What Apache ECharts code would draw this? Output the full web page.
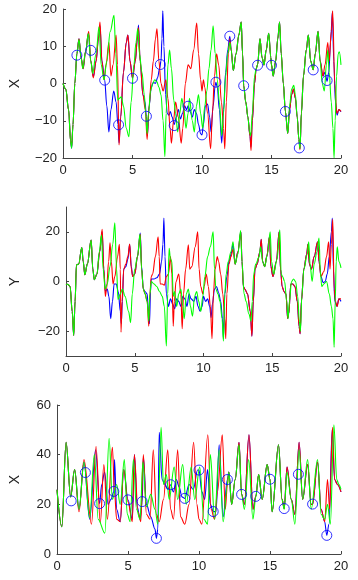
<!DOCTYPE html>
<html>
<head>
<meta charset="utf-8">
<title>lorenz</title>
<script src="https://cdn.jsdelivr.net/npm/echarts@6/dist/echarts.min.js"></script>
<style>
  html, body { margin:0; padding:0; background:#fff; }
  #main { width:358px; height:580px; }
</style>
</head>
<body>
<div id="main"></div>
<script type="text/javascript">
// --- data: [t, value] ---
var xTicks = [0, 5, 10, 15, 20];
var obsT = [1,2,3,4,5,6,7,8,9,10,11,12,13,14,15,16,17,18,19];
var obsX = [7.6,8.9,0.9,-11.1,1.4,-8.8,5.1,-11.3,-6.1,-13.8,0.35,12.7,-0.6,4.9,4.9,-7.5,-17.3,3.65,0.8];
var obsZ = [21.4,32.8,20.3,25.2,21.8,21.1,6.3,27.9,22.4,33.8,17.1,30,24,23.2,30.1,18.3,32.1,20.1,7.5];

var xBlue = [[0,0],[0.2,-1.5],[0.4,-7],[0.55,-15.5],[0.62,-17.4],[0.72,-11],[0.85,0],[1.0,8],[1.15,12],[1.3,7],[1.45,4],[1.62,8.5],[1.83,13.5],[2.0,6],[2.18,1.8],[2.38,6],[2.55,12],[2.66,15.5],[2.8,6],[3.0,0.9],[3.15,-6],[3.3,-13],[3.45,-7],[3.65,-2],[3.82,-5],[3.95,-11],[4.03,-16],[4.15,-9],[4.35,3],[4.55,11],[4.67,13],[4.82,6],[5.0,1.4],[5.2,6],[5.35,12],[5.43,15.7],[5.55,6],[5.75,-3],[5.9,-5],[6.0,-8.8],[6.07,-14],[6.2,-6],[6.35,-1],[6.5,0.3],[6.65,0],[6.8,1.5],[6.95,4],[7.05,6],[7.12,12],[7.18,19.5],[7.26,10],[7.38,-3],[7.5,-8],[7.62,-8.5],[7.72,-7.5],[7.85,-9],[8.0,-11],[8.15,-9],[8.3,-7],[8.45,-9.5],[8.6,-8],[8.75,-6],[8.9,-7],[9.0,-6],[9.15,-7.5],[9.3,-9],[9.45,-7],[9.6,-8],[9.75,-11],[9.9,-13.5],[10.0,-13.8],[10.1,-11],[10.25,-6],[10.4,-5.5],[10.55,-9],[10.65,-13],[10.8,-6],[10.95,-0.5],[11.0,0.3],[11.1,-1],[11.25,-7],[11.42,-16],[11.55,-7],[11.7,3],[11.85,9],[12.0,12.7],[12.1,9],[12.25,3.5],[12.45,8],[12.65,13],[12.82,16.5],[12.92,8],[13.0,-0.6],[13.15,-5],[13.3,-9],[13.45,-14],[13.52,-17],[13.62,-10],[13.78,0],[13.9,4],[14.0,5],[14.17,12],[14.32,7],[14.46,5],[14.62,9],[14.8,13.5],[14.95,7],[15.0,5],[15.12,2],[15.3,6],[15.45,12],[15.58,16.5],[15.7,8],[15.85,0],[16.0,-7.5],[16.17,-13.4],[16.3,-7],[16.45,-3],[16.58,-1.5],[16.72,-4],[16.85,-9],[16.97,-15],[17.05,-17.5],[17.15,-8],[17.3,2],[17.5,9],[17.65,13],[17.82,6],[18.0,3.7],[18.15,8],[18.35,14],[18.5,6],[18.7,2],[18.85,3],[19.0,0.6],[19.12,3],[19.25,11],[19.38,19.2],[19.48,6],[19.6,-5],[19.72,-8.5],[19.85,-7],[20,-7.6]];
var xRed = [[0,0],[0.2,-1.5],[0.4,-7],[0.55,-15.5],[0.62,-17],[0.72,-11],[0.85,0],[1.0,8],[1.15,12],[1.3,7],[1.45,4],[1.62,8.5],[1.85,14],[2.0,6],[2.18,1.5],[2.38,6],[2.55,12],[2.66,16.5],[2.8,6],[2.95,1],[3.1,5],[3.3,11],[3.45,2],[3.6,5],[3.82,13],[3.92,5],[4.03,-16.5],[4.15,-9],[4.35,3],[4.55,11],[4.67,13],[4.82,6],[5.0,1.5],[5.2,6],[5.35,12],[5.43,15],[5.55,6],[5.75,-3],[5.92,-7],[6.05,-15],[6.2,-6],[6.35,1],[6.5,6],[6.65,12],[6.76,14.7],[6.9,6],[7.05,0],[7.2,-2],[7.4,1],[7.55,-4],[7.7,-12],[7.8,-16],[7.95,-10],[8.1,-5],[8.3,-9],[8.5,-16],[8.62,-12],[8.8,0],[9.0,5],[9.2,4],[9.4,9],[9.62,16.2],[9.75,8],[9.9,1],[10.0,-2],[10.1,1],[10.2,-1],[10.4,-8],[10.62,-17.5],[10.75,-8],[10.9,2],[11.05,8],[11.2,5],[11.4,-5],[11.55,-12],[11.64,-17.5],[11.75,-5],[11.9,8],[12.0,12],[12.1,9],[12.25,3.5],[12.45,8],[12.65,13],[12.82,16.5],[12.92,8],[13.0,-0.6],[13.15,-5],[13.3,-9],[13.45,-14],[13.53,-18],[13.62,-10],[13.78,0],[13.9,4],[14.0,5],[14.17,12],[14.32,7],[14.46,5],[14.62,9],[14.8,13.5],[14.95,7],[15.0,5],[15.12,2],[15.3,6],[15.45,12],[15.58,16.5],[15.7,8],[15.85,0],[16.0,-7.5],[16.17,-13.4],[16.3,-7],[16.45,-3],[16.58,-1.5],[16.72,-4],[16.85,-9],[16.97,-15],[17.05,-17.8],[17.15,-8],[17.3,2],[17.5,9],[17.65,13],[17.82,6],[18.0,3.7],[18.15,8],[18.35,14],[18.5,6],[18.7,2],[18.85,5],[19.05,11],[19.15,6],[19.3,14],[19.4,19.5],[19.55,0],[19.7,-8],[19.85,-7],[20,-7.5]];
var xGreen = [[0,0],[0.2,-1.5],[0.4,-7],[0.55,-15.5],[0.62,-17.4],[0.72,-11],[0.85,0],[1.0,8],[1.15,11.8],[1.3,7],[1.42,4],[1.62,8.5],[1.83,13.4],[2.0,6],[2.13,2.7],[2.38,8],[2.59,15.2],[2.75,5],[2.95,1],[3.15,6],[3.4,14],[3.67,18.3],[3.8,8],[3.94,-4.5],[4.05,-4],[4.19,-3.6],[4.35,-6],[4.55,-12],[4.74,-14.3],[4.9,-5],[5.1,5],[5.25,11],[5.38,14.7],[5.5,8],[5.68,3],[5.85,-3],[5.95,-8],[6.05,-13.5],[6.15,-8],[6.3,-2],[6.45,0],[6.6,1],[6.75,0.5],[6.9,-1],[7.05,-3],[7.2,-10],[7.33,-19.6],[7.42,-8],[7.55,5],[7.67,9],[7.8,4],[7.97,-4.5],[8.1,-8],[8.25,-13],[8.4,-8],[8.55,-4],[8.7,-7],[8.85,-12],[9.0,-8],[9.1,-4],[9.3,-10],[9.45,-13],[9.6,-6],[9.75,-3],[9.9,-8],[10.05,-12],[10.2,-6],[10.35,-2],[10.5,4],[10.65,9],[10.8,15.5],[10.95,8],[11.1,1],[11.25,-5],[11.42,-14],[11.55,-8],[11.7,2],[11.85,8],[12.0,11],[12.1,9],[12.25,3.5],[12.45,8],[12.65,13],[12.82,16.5],[12.92,8],[13.0,-0.6],[13.15,-5],[13.3,-9],[13.42,-13],[13.5,-14],[13.62,-8],[13.78,2],[13.9,4],[14.0,5],[14.17,12],[14.32,7],[14.46,5],[14.62,9],[14.8,13.5],[14.95,7],[15.0,5],[15.12,2],[15.3,6],[15.45,12],[15.58,16.5],[15.7,8],[15.85,0],[16.0,-7.5],[16.17,-13.4],[16.3,-6],[16.45,-1.5],[16.6,-0.5],[16.72,-3],[16.85,-9],[16.97,-15],[17.05,-17.5],[17.15,-8],[17.3,2],[17.5,9],[17.65,13],[17.82,6],[18.0,3.7],[18.15,8],[18.35,14],[18.5,6],[18.65,0],[18.8,-2],[18.95,5],[19.05,9],[19.15,3],[19.3,-5],[19.42,-12],[19.5,-20],[19.58,-10],[19.68,2],[19.8,8],[19.88,8.5],[20,5]];

var yBlue = [[0,-1],[0.15,-1.2],[0.3,-2],[0.45,-12],[0.56,-21.7],[0.66,-8],[0.76,6.7],[0.92,7],[1.15,13.7],[1.25,8],[1.37,2.7],[1.55,7],[1.83,16.7],[1.95,5],[2.06,0.7],[2.25,3],[2.45,12],[2.63,20],[2.75,5],[2.86,-4],[3.0,-3],[3.12,-6],[3.25,-15],[3.38,-8],[3.5,-1],[3.65,-1],[3.8,-4],[3.95,-12],[4.02,-17],[4.1,-8],[4.2,5],[4.35,6],[4.5,9],[4.63,15],[4.75,6],[4.85,2],[5.0,3],[5.2,10],[5.4,19.5],[5.5,6],[5.62,-3],[5.75,-4],[5.9,-5],[6.0,-12],[6.07,-17],[6.15,-4],[6.2,1],[6.4,1],[6.6,1.5],[6.8,3],[6.95,8],[7.05,15],[7.12,25.5],[7.2,10],[7.3,-5],[7.45,-10],[7.6,-7],[7.75,-9],[7.9,-11],[8.05,-7],[8.2,-8],[8.35,-10],[8.5,-6],[8.65,-7],[8.8,-10],[8.95,-5],[9.1,-7],[9.3,-8],[9.45,-6],[9.6,-10],[9.75,-12],[9.9,-10],[10.0,-6],[10.15,-8],[10.3,-7],[10.45,-10],[10.55,-14.5],[10.65,-9],[10.8,-3],[10.95,-2],[11.1,-4.5],[11.25,-8],[11.38,-15],[11.45,-23],[11.55,-5],[11.7,2],[11.85,8],[12.0,11],[12.15,15],[12.3,7],[12.5,12],[12.72,20],[12.8,8],[12.9,-2],[13.0,-3],[13.2,-5],[13.4,-12],[13.52,-22],[13.62,-8],[13.75,5],[13.9,7],[14.1,12],[14.2,17],[14.3,8],[14.45,6],[14.6,10],[14.8,18],[14.9,6],[15.05,2],[15.3,8],[15.5,20],[15.6,5],[15.72,-2],[15.85,-4],[16.0,-5],[16.12,-15],[16.2,-13],[16.35,-1],[16.5,-1],[16.65,-2],[16.82,-8],[16.95,-18],[17.03,-21],[17.12,-8],[17.3,5],[17.5,11],[17.6,15],[17.7,7],[17.85,5],[18.05,10],[18.3,16],[18.4,8],[18.55,2],[18.7,-0.5],[18.85,0],[19.0,3],[19.15,10],[19.3,20],[19.37,25.5],[19.45,5],[19.55,-8],[19.7,-10],[19.85,-7],[20,-8]];
var yRed = [[0,-1],[0.15,-1.2],[0.3,-2],[0.45,-12],[0.56,-21.7],[0.66,-8],[0.76,6.7],[0.92,7],[1.15,13.7],[1.25,8],[1.37,2.7],[1.55,7],[1.83,16.7],[1.95,5],[2.06,0.7],[2.25,3],[2.45,12],[2.63,21],[2.75,5],[2.86,-6],[2.95,-3],[3.1,8],[3.2,15.6],[3.3,8],[3.42,-1],[3.55,2],[3.75,10],[3.88,15],[3.95,5],[4.0,-20.4],[4.08,-8],[4.2,5],[4.35,7],[4.5,10],[4.63,15.1],[4.75,5],[4.85,2],[5.0,3],[5.2,10],[5.4,19],[5.5,5],[5.62,-3],[5.75,-5],[5.9,-8],[6.02,-18],[6.1,-5],[6.2,2],[6.3,3],[6.5,10],[6.7,18],[6.78,10],[6.85,-1],[7.0,-1],[7.15,-1.5],[7.3,2],[7.45,3],[7.6,10],[7.7,3],[7.8,-18],[7.88,-8],[8.0,0],[8.2,3],[8.35,-5],[8.45,-19],[8.55,-5],[8.7,5],[8.9,14.8],[9.0,5],[9.15,6],[9.4,14],[9.58,20],[9.68,5],[9.8,-2],[9.95,-5],[10.05,-2],[10.2,3],[10.35,-2],[10.5,-10],[10.62,-23],[10.72,-5],[10.85,5],[11.0,10],[11.1,8],[11.25,3],[11.4,-5],[11.55,-15],[11.62,-23],[11.7,-5],[11.85,7],[12.0,10],[12.15,13],[12.3,7],[12.5,12],[12.72,20],[12.8,8],[12.9,-2],[13.0,-3],[13.2,-5],[13.4,-12],[13.52,-22],[13.62,-8],[13.75,5],[13.9,7],[14.1,12],[14.2,17],[14.3,8],[14.45,6],[14.6,10],[14.8,18],[14.9,6],[15.05,2],[15.3,8],[15.5,20],[15.6,5],[15.72,-2],[15.85,-4],[16.0,-5],[16.12,-15],[16.2,-13],[16.35,-1],[16.5,-1],[16.65,-2],[16.82,-8],[16.95,-18],[17.03,-21],[17.12,-8],[17.3,5],[17.5,11],[17.6,15],[17.7,7],[17.85,5],[18.05,10],[18.3,16],[18.4,8],[18.55,2],[18.75,4],[18.95,10],[19.1,16],[19.2,5],[19.3,15],[19.4,25],[19.5,-3],[19.6,-8],[19.72,-10],[19.85,-7],[20,-7]];
var yGreen = [[0,-1],[0.15,-1.2],[0.3,-2],[0.45,-12],[0.56,-21.7],[0.66,-8],[0.76,6.7],[0.92,7],[1.15,13.7],[1.25,8],[1.37,2.7],[1.55,7],[1.83,16.7],[1.95,5],[2.06,0.7],[2.25,3],[2.42,12],[2.58,18.7],[2.7,5],[2.85,-3],[3.0,-1],[3.2,6],[3.4,15],[3.55,23.6],[3.68,5],[3.78,-7.3],[3.95,-5],[4.1,-3],[4.3,-6],[4.55,-12],[4.7,-16.6],[4.82,-5],[5.0,5],[5.2,10],[5.38,19],[5.5,5],[5.62,-3],[5.75,-5],[5.9,-8],[6.02,-16],[6.1,-5],[6.2,0],[6.4,-1],[6.6,-2],[6.8,-4],[7.0,-6],[7.15,-10],[7.3,-26],[7.4,-5],[7.5,13.4],[7.6,9],[7.7,8],[7.8,-6],[7.9,-4],[8.05,-10],[8.2,-5],[8.35,-3],[8.5,-10],[8.6,-15],[8.75,-5],[8.9,-3],[9.05,-10],[9.2,-14],[9.35,-6],[9.5,-4],[9.65,-8],[9.8,-12],[9.95,-6],[10.1,2],[10.3,10],[10.5,14],[10.7,20],[10.8,5],[10.9,-3],[11.05,-5],[11.2,-8],[11.35,-15],[11.45,-24],[11.55,-5],[11.65,3],[11.8,8],[12.0,12],[12.15,16],[12.3,7],[12.5,11],[12.7,20.5],[12.8,8],[12.95,-5],[13.1,-8],[13.3,-13],[13.45,-16],[13.55,-8],[13.65,3],[13.8,7],[14.05,10],[14.15,14],[14.3,8],[14.45,6],[14.65,11],[14.85,20],[14.95,8],[15.1,3],[15.35,9],[15.55,20.8],[15.65,3],[15.75,2],[15.9,0],[16.05,-8],[16.15,-15],[16.25,-8],[16.4,0],[16.55,1],[16.7,0],[16.85,-6],[16.97,-16],[17.05,-20],[17.15,-6],[17.3,5],[17.55,11],[17.65,16],[17.75,7],[17.9,0],[18.05,7],[18.25,12],[18.4,17.5],[18.5,4],[18.6,-2],[18.75,-1],[18.95,0],[19.15,-5],[19.3,-10],[19.42,-15],[19.5,-26.5],[19.58,-8],[19.65,8],[19.73,14],[19.85,8],[20,5.5]];

var zBlue = [[0,25.9],[0.34,11],[0.64,45],[0.96,23],[1.24,34],[1.55,18],[1.9,37],[2.3,14],[2.72,42],[3.0,20.3],[3.15,28],[3.35,33],[3.6,20],[3.8,22],[4.0,25],[4.05,38],[4.2,18],[4.45,13],[4.7,34],[5.0,21.8],[5.3,14],[5.45,40],[5.65,19],[5.85,14],[6.0,21],[6.08,39],[6.3,20],[6.6,15],[6.9,10],[7.0,6.3],[7.1,10],[7.2,49],[7.4,30],[7.6,28],[7.8,26],[8.0,27.9],[8.2,25],[8.4,30],[8.6,27],[8.8,23],[9.0,22.4],[9.3,28],[9.6,26],[9.9,33.8],[10.0,33.8],[10.2,25],[10.4,22],[10.6,34],[10.8,20],[11.0,17.1],[11.2,17],[11.42,44],[11.7,15],[12.0,30],[12.1,33],[12.3,20],[12.55,30],[12.82,45],[13.0,24],[13.2,20],[13.52,48],[13.8,18],[14.0,23.2],[14.2,32],[14.45,22],[14.8,36],[15.0,30.1],[15.15,17],[15.6,44],[15.85,22],[16.0,18.3],[16.2,35],[16.5,22],[16.75,16],[17.05,45],[17.3,22],[17.65,36],[17.9,20],[18.0,20.1],[18.35,37],[18.6,18],[18.85,13],[19.0,7.5],[19.15,12],[19.38,50],[19.55,30],[19.75,28],[20,25]];
var zRed = [[0,25.9],[0.34,11],[0.64,45],[0.96,23],[1.24,34],[1.55,17],[1.9,38],[2.43,12],[2.75,43.3],[3.05,12.5],[3.3,36],[3.55,14],[3.9,43],[4.05,25],[4.2,14],[4.45,13],[4.7,34],[5.0,21],[5.3,13],[5.45,40],[5.7,17],[5.9,13],[6.08,40],[6.3,16],[6.55,14],[6.78,42],[7.0,16],[7.2,13],[7.5,22],[7.8,42],[8.0,18],[8.2,14],[8.5,42],[8.7,15],[9.0,12],[9.3,20],[9.62,45],[9.85,20],[10.0,14],[10.2,12],[10.62,48],[10.85,18],[11.1,14],[11.3,25],[11.64,48],[11.85,18],[12.0,28],[12.1,33],[12.3,20],[12.55,30],[12.82,45],[13.0,24],[13.2,20],[13.52,48],[13.8,18],[14.0,23.2],[14.2,32],[14.45,22],[14.8,36],[15.0,30.1],[15.15,17],[15.6,44],[15.85,22],[16.0,18.3],[16.2,35],[16.5,22],[16.75,16],[17.05,45],[17.3,22],[17.65,36],[17.9,20],[18.0,20.1],[18.35,37],[18.6,18],[18.85,13],[19.05,30],[19.2,18],[19.4,51],[19.55,30],[19.75,28],[20,25]];
var zGreen = [[0,25.9],[0.34,11],[0.64,45],[0.96,23],[1.24,34],[1.55,18],[1.9,37],[2.3,14.5],[2.63,40],[2.9,14],[3.37,8.4],[3.67,46.6],[3.9,22],[4.2,28],[4.45,20],[4.74,38],[4.95,16],[5.15,13],[5.38,38],[5.6,18],[5.85,14],[6.05,37],[6.3,19],[6.6,24],[6.9,18],[7.1,12],[7.33,51],[7.5,28],[7.7,32],[7.9,22],[8.25,35],[8.5,22],[8.85,36],[9.1,20],[9.45,35],[9.7,22],[10.05,35],[10.35,14],[10.6,12],[10.8,40],[11.1,14],[11.42,42],[11.7,13],[12.0,28],[12.1,33],[12.3,20],[12.55,30],[12.82,44],[13.0,24],[13.2,18],[13.5,38],[13.8,14],[14.0,23],[14.2,32],[14.45,22],[14.8,36],[15.0,30],[15.15,17],[15.6,44],[15.85,22],[16.0,18],[16.2,33],[16.5,22],[16.75,12],[17.05,42],[17.3,22],[17.65,38],[17.9,18],[18.35,38],[18.6,16],[18.85,14],[19.05,20],[19.25,12],[19.5,52],[19.7,30],[19.85,28],[20,26]];

var chart = echarts.init(document.getElementById('main'), null, {renderer:'canvas'});

var axisCol = '#444';
var font = 'Liberation Sans, Arial, sans-serif';
var grids = [
    {left:50, width:291, top:9, height:149},
    {left:50, width:291, top:207, height:149},
    {left:50, width:291, top:405, height:149}
];
var yNames = ['X', 'Y', 'X'];
var yGaps = [41, 44, 35];
var yRange = [[-20, 20, 10], [-30, 30, 10], [0, 60, 20]];

function minus(v) { return (v < 0 ? '\u2212' + (-v) : '' + v); }

var xAxes = [], yAxes = [];
for (var i = 0; i < 3; i++) {
    xAxes.push({
        type:'value', gridIndex:i, min:0, max:20, interval:5,
        axisLine:{show:true, onZero:false, lineStyle:{color:axisCol, width:1}},
        axisTick:{show:true, inside:true, length:3, lineStyle:{color:axisCol}},
        axisLabel:{color:'#222', fontSize:13, fontFamily:font, margin:6,
                   customValues: xTicks},
        splitLine:{show:false}
    });
    var y = {
        type:'value', gridIndex:i, min:yRange[i][0], max:yRange[i][1], interval:yRange[i][2],
        name:yNames[i], nameLocation:'middle', nameGap:yGaps[i], nameRotate:90,
        nameTextStyle:{color:'#222', fontSize:14, fontFamily:font},
        axisLine:{show:true, lineStyle:{color:axisCol, width:1}},
        axisTick:{show:true, inside:true, length:3, lineStyle:{color:axisCol}},
        axisLabel:{color:'#222', fontSize:13, fontFamily:font, margin:6, formatter:minus},
        splitLine:{show:false}
    };
    if (i == 1) {
        y.axisLabel.customValues = [-20, 0, 20];
        y.axisTick.customValues = [-20, 0, 20];
    }
    yAxes.push(y);
}

function line(data, color, g) {
    return {
        type:'line', xAxisIndex:g, yAxisIndex:g, data:data,
        showSymbol:false, smooth:0.35, smoothMonotone:'x', silent:true,
        lineStyle:{color:color, width:1.1}, animation:false
    };
}
function circles(vals, g) {
    var pts = [];
    for (var k = 0; k < obsT.length; k++) pts.push([obsT[k], vals[k]]);
    return {
        type:'scatter', xAxisIndex:g, yAxisIndex:g, data:pts, symbol:'circle', symbolSize:10,
        itemStyle:{color:'rgba(0,0,0,0)', borderColor:'#0000ff', borderWidth:1}, animation:false, z:5
    };
}

chart.setOption({
    backgroundColor:'#fff',
    animation:false,
    grid:grids,
    xAxis:xAxes,
    yAxis:yAxes,
    series:[
        line(xBlue, '#0000ff', 0), line(xRed, '#ff0000', 0), line(xGreen, '#00ff00', 0), circles(obsX, 0),
        line(yBlue, '#0000ff', 1), line(yRed, '#ff0000', 1), line(yGreen, '#00ff00', 1),
        line(zBlue, '#0000ff', 2), line(zRed, '#ff0000', 2), line(zGreen, '#00ff00', 2), circles(obsZ, 2)
    ]
});
</script>
</body>
</html>
